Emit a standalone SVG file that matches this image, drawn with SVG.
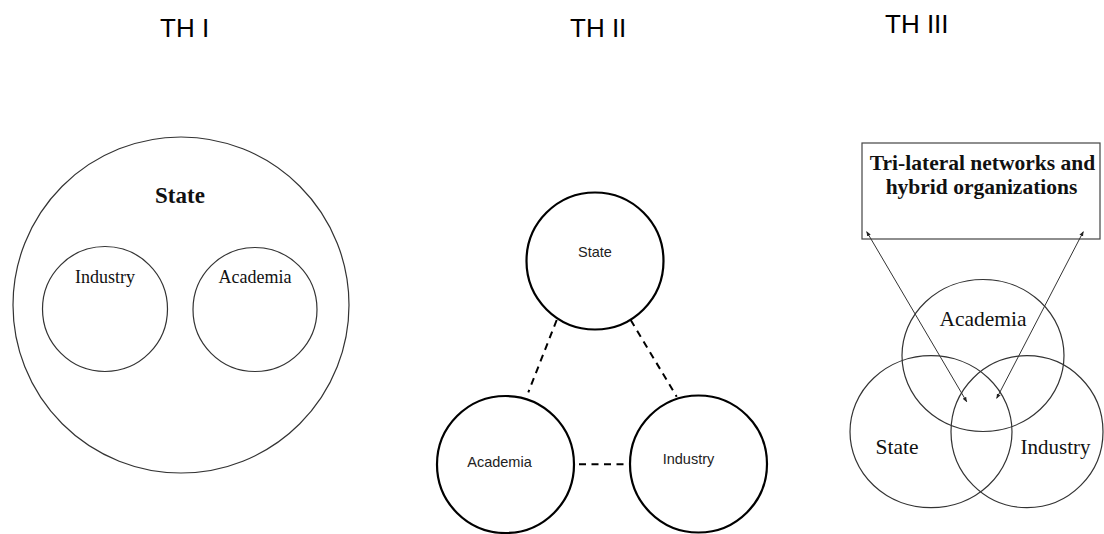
<svg xmlns="http://www.w3.org/2000/svg" width="1104" height="534" viewBox="0 0 1104 534">
<style>
.title{font-family:"Liberation Sans",Arial,sans-serif;font-size:26px;fill:#000}
.thin{fill:none;stroke:#333;stroke-width:1.2}
.thick{fill:none;stroke:#000;stroke-width:2.2}
.serif{font-family:"Liberation Serif","Times New Roman",serif;fill:#111;text-anchor:middle}
.sans{font-family:"Liberation Sans",Arial,sans-serif;font-size:14.5px;fill:#222;text-anchor:middle}
.dash{fill:none;stroke:#000;stroke-width:2;stroke-dasharray:7 5.5}
.arr{fill:none;stroke:#333;stroke-width:1;marker-start:url(#ah);marker-end:url(#ah)}
</style>
<defs>
<marker id="ah" viewBox="0 0 10 10" refX="9" refY="5" markerWidth="5" markerHeight="5" orient="auto-start-reverse" markerUnits="userSpaceOnUse">
<path d="M0,1 L10,5 L0,9 z" fill="#222"/>
</marker>
</defs>
<rect width="1104" height="534" fill="#fff"/>
<g id="titles">
<text class="title" x="160" y="37">TH I</text>
<text class="title" x="570" y="37">TH II</text>
<text class="title" x="885" y="33">TH III</text>
</g>
<!-- TH I -->
<g id="th1-state">
<circle class="thin" cx="181" cy="305" r="168" fill="#fbfbfb"/>
<text class="serif" x="180" y="203" font-size="23" font-weight="bold">State</text>
</g>
<g id="th1-industry">
<circle class="thin" cx="105" cy="309" r="62.5" style="fill:#fff"/>
<text class="serif" x="105" y="283" font-size="18">Industry</text>
</g>
<g id="th1-academia">
<circle class="thin" cx="255" cy="309.5" r="62" style="fill:#fff"/>
<text class="serif" x="255" y="283" font-size="18">Academia</text>
</g>
<!-- TH II -->
<g id="th2-state">
<circle class="thick" cx="595" cy="261" r="68.5"/>
<text class="sans" x="595" y="257">State</text>
</g>
<g id="th2-academia">
<circle class="thick" cx="505.5" cy="464.5" r="68.5"/>
<text class="sans" x="499.5" y="467">Academia</text>
</g>
<g id="th2-industry">
<circle class="thick" cx="698.5" cy="464" r="68.5"/>
<text class="sans" x="688.5" y="464">Industry</text>
</g>
<g id="th2-connectors">
<line class="dash" x1="556.7" y1="320" x2="528.3" y2="392.3"/>
<line class="dash" x1="630.7" y1="320" x2="676.7" y2="396.7"/>
<line class="dash" x1="579" y1="464.3" x2="629.3" y2="464.3"/>
</g>
<!-- TH III -->
<g id="th3-box">
<rect x="862" y="143" width="238" height="96" fill="#fff" stroke="#444" stroke-width="1.2"/>
<text class="serif" x="982.5" y="170" font-size="21.5" font-weight="bold">Tri-lateral networks and</text>
<text class="serif" x="981.5" y="194" font-size="21.5" font-weight="bold">hybrid organizations</text>
</g>
<g id="th3-academia">
<ellipse class="thin" cx="983" cy="355.5" rx="81" ry="76"/>
<text class="serif" x="983" y="325.5" font-size="21.5">Academia</text>
</g>
<g id="th3-state">
<ellipse class="thin" cx="931" cy="431.7" rx="81" ry="76"/>
<text class="serif" x="897" y="454" font-size="21.5">State</text>
</g>
<g id="th3-industry">
<ellipse class="thin" cx="1027" cy="431.7" rx="76" ry="76"/>
<text class="serif" x="1055.5" y="454" font-size="21">Industry</text>
</g>
<g id="th3-connectors">
<line class="arr" x1="866.7" y1="231.7" x2="966.7" y2="401.7"/>
<line class="arr" x1="1083.3" y1="231.7" x2="996.7" y2="398.3"/>
</g>
</svg>
